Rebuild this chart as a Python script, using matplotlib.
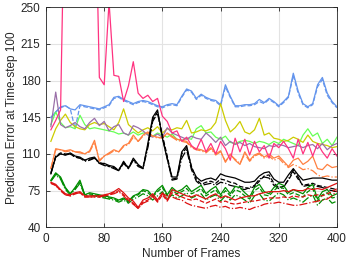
import numpy as np
import matplotlib
matplotlib.use('Agg')
import matplotlib.pyplot as plt

plt.rcParams['font.family'] = ['Liberation Sans', 'DejaVu Sans']

# frames sampled every 400/60
frames = np.linspace(400 / 60, 400, 60)

blue = [145, 150, 155, 156, 153, 152, 157, 156, 155, 154,
        153, 155, 157, 164, 165, 162, 160, 158, 160, 161,
        160, 158, 156, 155, 157, 158, 157, 165, 172, 170,
        163, 167, 164, 162, 161, 157, 176, 165, 156, 156,
        157, 157, 158, 162, 159, 163, 160, 156, 160, 165,
        187, 170, 158, 155, 158, 176, 183, 168, 160, 155]
blue_dash = [144, 150, 154, 156, 153, 134, 156, 155, 154, 153,
             152, 154, 156, 163, 164, 161, 159, 157, 159, 160,
             159, 157, 155, 154, 156, 157, 156, 164, 171, 169,
             162, 166, 163, 161, 160, 156, 174, 164, 155, 155,
             156, 156, 157, 160, 158, 162, 159, 155, 159, 164,
             185, 168, 157, 154, 157, 174, 181, 166, 159, 154]
pink = [133, 142, 152, 400, 400, 400, 400, 400, 400, 400,
        183, 176, 255, 185, 184, 160, 175, 198, 168, 163,
        166, 160, 163, 146, 141, 130, 132, 122, 126, 118,
        114, 124, 112, 120, 110, 122, 115, 104, 125, 112,
        124, 109, 122, 112, 118, 106, 120, 116, 122, 115,
        106, 124, 110, 121, 108, 120, 112, 106, 115, 108]
lgreen = [138, 150, 140, 135, 136, 134, 147, 138, 134, 135,
          134, 133, 132, 131, 129, 130, 128, 131, 128, 130,
          129, 127, 130, 128, 126, 129, 124, 123, 125, 124,
          134, 137, 130, 131, 126, 124, 127, 121, 120, 122,
          123, 122, 120, 122, 121, 119, 122, 120, 124, 122,
          120, 118, 128, 134, 127, 130, 120, 124, 118, 126]
olive = [122, 134, 142, 148, 140, 136, 134, 133, 138, 140,
         138, 139, 136, 133, 140, 153, 138, 134, 130, 133,
         135, 132, 136, 130, 134, 133, 135, 134, 142, 130,
         131, 133, 132, 134, 140, 158, 142, 131, 135, 141,
         131, 129, 133, 144, 128, 130, 125, 124, 122, 123,
         126, 124, 121, 128, 122, 120, 119, 118, 116, 117]
purple = [136, 169, 138, 135, 137, 140, 136, 134, 140, 144,
          137, 141, 132, 136, 138, 130, 128, 137, 135, 132,
          128, 126, 129, 126, 135, 130, 128, 126, 124, 127,
          125, 124, 130, 126, 121, 126, 118, 122, 119, 121,
          118, 120, 117, 116, 115, 118, 117, 119, 118, 116,
          117, 118, 116, 118, 119, 115, 120, 114, 118, 120]
orange = [96, 115, 114, 113, 114, 112, 112, 110, 113, 123,
          103, 108, 111, 114, 112, 118, 120, 128, 122, 128,
          131, 127, 126, 125, 130, 127, 124, 123, 122, 117,
          115, 114, 112, 116, 110, 113, 102, 110, 104, 100,
          112, 104, 109, 111, 107, 110, 106, 108, 103, 98,
          104, 106, 100, 103, 108, 96, 95, 100, 97, 98]
orange_dash = [96, 114, 114, 112, 113, 112, 111, 110, 112, 121,
               104, 108, 110, 113, 112, 117, 119, 126, 122, 127,
               130, 127, 125, 126, 129, 126, 123, 122, 121, 116,
               114, 113, 111, 115, 109, 112, 103, 109, 105, 101,
               110, 103, 108, 110, 106, 108, 104, 106, 101, 97,
               100, 98, 95, 96, 94, 90, 88, 89, 88, 88]
black = [91, 107, 110, 109, 111, 108, 107, 104, 106, 107,
         101, 101, 99, 98, 94, 103, 96, 106, 100, 96,
         120, 145, 152, 125, 105, 88, 88, 112, 118, 97,
         88, 84, 86, 87, 85, 91, 89, 88, 87, 85,
         83, 83, 84, 89, 92, 93, 86, 83, 83, 90,
         96, 90, 85, 86, 87, 87, 87, 86, 85, 85]
black_dash = [92, 108, 111, 110, 110, 107, 106, 104, 105, 106,
              102, 100, 98, 97, 95, 102, 97, 105, 99, 97,
              118, 143, 150, 128, 108, 86, 87, 110, 116, 98,
              86, 81, 83, 84, 82, 86, 85, 83, 82, 79,
              78, 77, 79, 84, 89, 90, 82, 78, 79, 85,
              93, 86, 80, 81, 82, 80, 79, 78, 77, 76]
black_dashdot = [91, 107, 110, 109, 110, 107, 106, 103, 104, 106,
                 101, 99, 98, 96, 94, 101, 96, 104, 98, 96,
                 116, 141, 149, 126, 106, 85, 86, 106, 114, 95,
                 84, 80, 81, 82, 80, 83, 82, 80, 79, 77,
                 76, 78, 80, 86, 88, 87, 80, 77, 78, 86,
                 95, 88, 79, 80, 80, 79, 78, 76, 75, 74]
green = [85, 92, 88, 78, 72, 78, 85, 71, 73, 72,
         71, 70, 69, 68, 66, 68, 65, 70, 72, 76,
         75, 70, 76, 80, 71, 78, 74, 76, 80, 74,
         77, 80, 72, 76, 79, 71, 78, 72, 79, 78,
         73, 69, 78, 81, 74, 72, 78, 82, 80, 73,
         76, 74, 72, 78, 81, 67, 74, 76, 70, 72]
green_dash = [84, 91, 87, 77, 72, 77, 83, 71, 72, 71,
              70, 69, 68, 67, 65, 67, 64, 69, 71, 75,
              73, 69, 74, 78, 70, 75, 72, 74, 77, 72,
              74, 77, 70, 73, 76, 69, 75, 70, 76, 74,
              70, 67, 75, 78, 71, 70, 75, 79, 77, 71,
              73, 71, 69, 74, 77, 65, 71, 73, 68, 69]
green_dashdot = [84, 90, 86, 76, 71, 76, 82, 70, 71, 70,
                 69, 68, 67, 66, 64, 66, 63, 67, 69, 72,
                 70, 66, 70, 74, 67, 71, 68, 70, 73, 68,
                 70, 72, 66, 69, 71, 65, 70, 66, 71, 69,
                 66, 63, 70, 72, 66, 65, 69, 73, 71, 66,
                 68, 66, 64, 68, 71, 61, 66, 68, 63, 65]
red = [83, 81, 76, 72, 71, 73, 74, 70, 70, 70,
       70, 71, 72, 74, 77, 73, 68, 65, 59, 66,
       68, 72, 66, 73, 66, 76, 74, 72, 70, 69,
       71, 69, 67, 70, 72, 68, 70, 68, 66, 68,
       69, 70, 70, 72, 73, 74, 74, 74, 75, 74,
       76, 75, 75, 77, 76, 77, 76, 78, 80, 82]
red_dash = [82, 80, 75, 71, 70, 72, 73, 69, 69, 69,
            69, 70, 71, 73, 75, 71, 66, 63, 58, 64,
            66, 70, 64, 71, 65, 73, 71, 69, 67, 66,
            67, 65, 63, 65, 67, 64, 65, 63, 62, 63,
            64, 65, 65, 66, 67, 68, 68, 68, 69, 68,
            70, 69, 69, 71, 70, 71, 70, 72, 74, 77]
red_dashdot = [82, 80, 75, 71, 70, 72, 73, 69, 69, 69,
               69, 70, 71, 72, 74, 70, 65, 62, 58, 63,
               65, 69, 65, 72, 70, 69, 67, 66, 63, 61,
               60, 59, 58, 60, 61, 59, 60, 58, 58, 59,
               58, 57, 59, 60, 62, 63, 63, 64, 63, 62,
               61, 61, 62, 63, 64, 65, 66, 67, 70, 75]

xticks = [0, 80, 160, 240, 320, 400]
yticks = [40, 75, 110, 145, 180, 215, 250]

fig = plt.figure(figsize=(3.47, 2.63), dpi=100)
ax = fig.add_axes([0.1326, 0.1357, 0.8384, 0.8369])

lw = 0.9
series = [
    (blue_dash, '#6495ED', '--'),
    (blue, '#6495ED', '-'),
    (lgreen, '#66FF55', '-'),
    (olive, '#CCCC00', '-'),
    (purple, '#9A6FA8', '-'),
    (orange_dash, '#FF8040', '-.'),
    (orange, '#FF8040', '-'),
    (pink, '#FF3380', '-'),
    (black_dash, 'k', '--'),
    (black_dashdot, 'k', '-.'),
    (black, 'k', '-'),
    (green_dash, '#008C00', '--'),
    (green_dashdot, '#008C00', '-.'),
    (green, '#008C00', '-'),
    (red_dash, '#DD1111', '--'),
    (red_dashdot, '#DD1111', '-.'),
    (red, '#DD1111', '-'),
]
for vals, c, ls in series:
    ax.plot(frames, vals, color=c, linestyle=ls, linewidth=lw)

ax.set_xlim(0, 400)
ax.set_ylim(40, 250)
ax.set_xticks(xticks)
ax.set_yticks(yticks)
ax.grid(True, color='#E3E3E3', linewidth=0.8)
ax.set_axisbelow(True)
ax.tick_params(direction='in', top=True, right=True, length=3, pad=4,
               labelsize=8.5, colors='#262626', width=0.6)
for s in ax.spines.values():
    s.set_color('#262626')
    s.set_linewidth(0.6)
ax.set_xlabel('Number of Frames', fontsize=8.5, color='#262626', labelpad=2)
ax.set_ylabel('Prediction Error at Time-step 100', fontsize=8.5,
              color='#262626', labelpad=2)

fig.savefig('out.png', dpi=100)
